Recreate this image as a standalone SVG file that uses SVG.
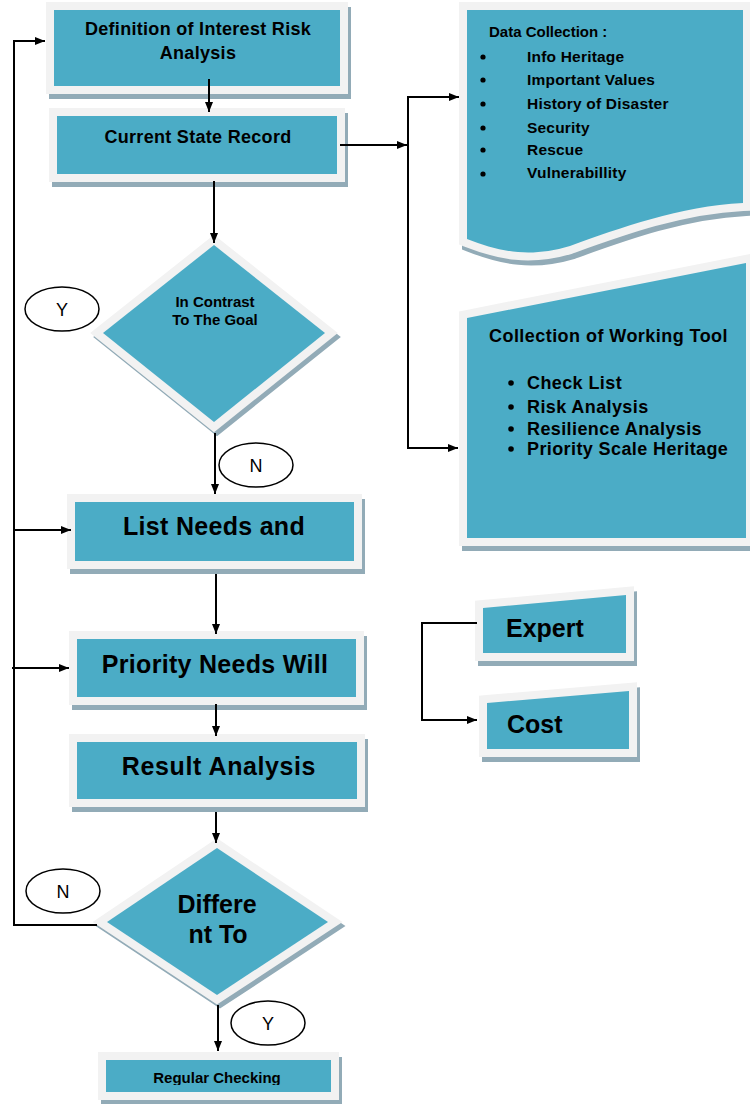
<svg xmlns="http://www.w3.org/2000/svg" width="750" height="1104" viewBox="0 0 750 1104">
<style>
.sh{fill:#92abb7;stroke:#92abb7;stroke-width:16;stroke-linejoin:miter}
.nd{fill:#4bacc6;stroke:#f2f2f2;stroke-width:16;stroke-linejoin:miter;paint-order:stroke}
.t{font-family:"Liberation Sans",Arial,sans-serif;font-weight:bold;fill:#000}
.c{text-anchor:middle}
.lb{fill:none;stroke:#000;stroke-width:1.5}
.lt{font-family:"Liberation Sans",Arial,sans-serif;font-size:18px;fill:#000;text-anchor:middle}
.cn{fill:none;stroke:#000;stroke-width:2}
.cn.a{marker-end:url(#ah)}
</style>
<defs>
<marker id="ah" viewBox="0 0 10 8" refX="10" refY="4" markerWidth="10" markerHeight="8" markerUnits="userSpaceOnUse" orient="auto">
<path d="M0,0 L10,4 L0,8 Z" fill="#000"/>
</marker>
<clipPath id="clip6"><rect x="106" y="1060" width="225" height="25"/></clipPath>
</defs>

<g id="n-definition">
<rect class="sh" x="57" y="15" width="286" height="76"/>
<rect class="nd" x="54" y="10" width="286" height="76"/>
<text class="t c" x="198" y="35" font-size="18" letter-spacing="0.3">Definition of Interest Risk</text>
<text class="t c" x="198" y="59" font-size="18" letter-spacing="0.3">Analysis</text>
</g>

<g id="n-current">
<rect class="sh" x="60" y="121" width="280" height="58"/>
<rect class="nd" x="57" y="116" width="280" height="58"/>
<text class="t c" x="198" y="143" font-size="18" letter-spacing="0.3">Current State Record</text>
</g>

<g id="n-contrast">
<polygon class="sh" points="217,249 328,337 217,426 106,337"/>
<polygon class="nd" points="214,245 325,333 214,422 103,333"/>
<text class="t c" x="215" y="307" font-size="15">In Contrast</text>
<text class="t c" x="215" y="325" font-size="15">To The Goal</text>
</g>

<g id="n-list">
<rect class="sh" x="78" y="507" width="279" height="59"/>
<rect class="nd" x="75" y="502" width="279" height="59"/>
<text class="t c" x="214" y="535" font-size="25" letter-spacing="0.3">List  Needs and</text>
</g>

<g id="n-priority">
<rect class="sh" x="80" y="644" width="279" height="58"/>
<rect class="nd" x="77" y="639" width="279" height="58"/>
<text class="t c" x="215" y="673" font-size="25" letter-spacing="0.3">Priority Needs Will</text>
</g>

<g id="n-result">
<rect class="sh" x="80" y="747" width="280" height="57"/>
<rect class="nd" x="77" y="742" width="280" height="57"/>
<text class="t c" x="219" y="775" font-size="25" letter-spacing="0.6">Result Analysis</text>
</g>

<g id="n-different">
<polygon class="sh" points="220,852 331,926 220,999 110,926"/>
<polygon class="nd" points="217,848 328,922 217,995 107,922"/>
<text class="t c" x="217" y="913" font-size="25">Differe</text>
<text class="t c" x="218" y="943" font-size="25">nt To</text>
</g>

<g id="n-regular">
<rect class="sh" x="109" y="1065" width="225" height="32"/>
<rect class="nd" x="106" y="1060" width="225" height="32"/>
<text class="t c" x="217" y="1083" font-size="15" clip-path="url(#clip6)">Regular Checking</text>
</g>

<g id="n-datacollection">
<path class="sh" transform="translate(3,5)" d="M467,10 H743 V203 C680,206 620,228 570,246 C530,258 500,252 467,239 Z"/>
<path class="nd" d="M467,10 H743 V203 C680,206 620,228 570,246 C530,258 500,252 467,239 Z"/>
<text class="t" x="489" y="37" font-size="15">Data Collection :</text>
<g fill="#000">
<circle cx="483" cy="57" r="2.6"/>
<circle cx="483" cy="80" r="2.6"/>
<circle cx="483" cy="104" r="2.6"/>
<circle cx="483" cy="128" r="2.6"/>
<circle cx="483" cy="150" r="2.6"/>
<circle cx="483" cy="174" r="2.6"/>
</g>
<text class="t" x="527" y="62" font-size="15.5" letter-spacing="0.2">Info Heritage</text>
<text class="t" x="527" y="85" font-size="15.5" letter-spacing="0.2">Important Values</text>
<text class="t" x="527" y="109" font-size="15.5" letter-spacing="0.2">History of Disaster</text>
<text class="t" x="527" y="133" font-size="15.5" letter-spacing="0.2">Security</text>
<text class="t" x="527" y="155" font-size="15.5" letter-spacing="0.2">Rescue</text>
<text class="t" x="527" y="178" font-size="15.5" letter-spacing="0.2">Vulnerabillity</text>
</g>

<g id="n-workingtool">
<polygon class="sh" points="470,323 749,268 749,543 470,543"/>
<polygon class="nd" points="467,318 746,263 746,538 467,538"/>
<text class="t" x="489" y="342" font-size="18" letter-spacing="0.45">Collection of Working Tool</text>
<g fill="#000">
<circle cx="511" cy="383" r="2.8"/>
<circle cx="511" cy="407" r="2.8"/>
<circle cx="511" cy="429" r="2.8"/>
<circle cx="511" cy="449" r="2.8"/>
</g>
<text class="t" x="527" y="389" font-size="18" letter-spacing="0.4">Check List</text>
<text class="t" x="527" y="413" font-size="18" letter-spacing="0.4">Risk Analysis</text>
<text class="t" x="527" y="435" font-size="18" letter-spacing="0.4">Resilience Analysis</text>
<text class="t" x="527" y="455" font-size="18" letter-spacing="0.4">Priority Scale Heritage</text>
</g>

<g id="n-expert">
<polygon class="sh" points="486,613 629,600 629,658 486,658"/>
<polygon class="nd" points="483,608 626,595 626,653 483,653"/>
<text class="t" x="506" y="637" font-size="25">Expert</text>
</g>

<g id="n-cost">
<polygon class="sh" points="490,708 632,696 632,754 490,754"/>
<polygon class="nd" points="487,703 629,691 629,749 487,749"/>
<text class="t" x="507" y="733" font-size="25">Cost</text>
</g>

<g id="connectors">
<path class="cn a" d="M209,79 V112"/>
<path class="cn a" d="M214,181 V243"/>
<path class="cn a" d="M215,433 V494"/>
<path class="cn a" d="M216,574 V634"/>
<path class="cn a" d="M216,704 V736"/>
<path class="cn a" d="M216,812 V843"/>
<path class="cn a" d="M218,1005 V1051"/>
<path class="cn a" d="M97,925 H14 V41 H45"/>
<path class="cn a" d="M14,530 H71"/>
<path class="cn a" d="M12,668 H69"/>
<path class="cn a" d="M340,145 H407"/>
<path class="cn a" d="M408,97 V448 H458"/>
<path class="cn a" d="M407,97 H459"/>
<path class="cn a" d="M477,623 H422 V720 H477"/>
</g>

<g id="labels">
<g id="lbl-y1"><ellipse class="lb" cx="62" cy="309" rx="37" ry="22"/><text class="lt" x="62" y="316">Y</text></g>
<g id="lbl-n1"><ellipse class="lb" cx="256" cy="465" rx="37" ry="22"/><text class="lt" x="256" y="472">N</text></g>
<g id="lbl-n2"><ellipse class="lb" cx="63" cy="891" rx="37" ry="22"/><text class="lt" x="63" y="898">N</text></g>
<g id="lbl-y2"><ellipse class="lb" cx="268" cy="1023" rx="37" ry="22"/><text class="lt" x="268" y="1030">Y</text></g>
</g>
</svg>
